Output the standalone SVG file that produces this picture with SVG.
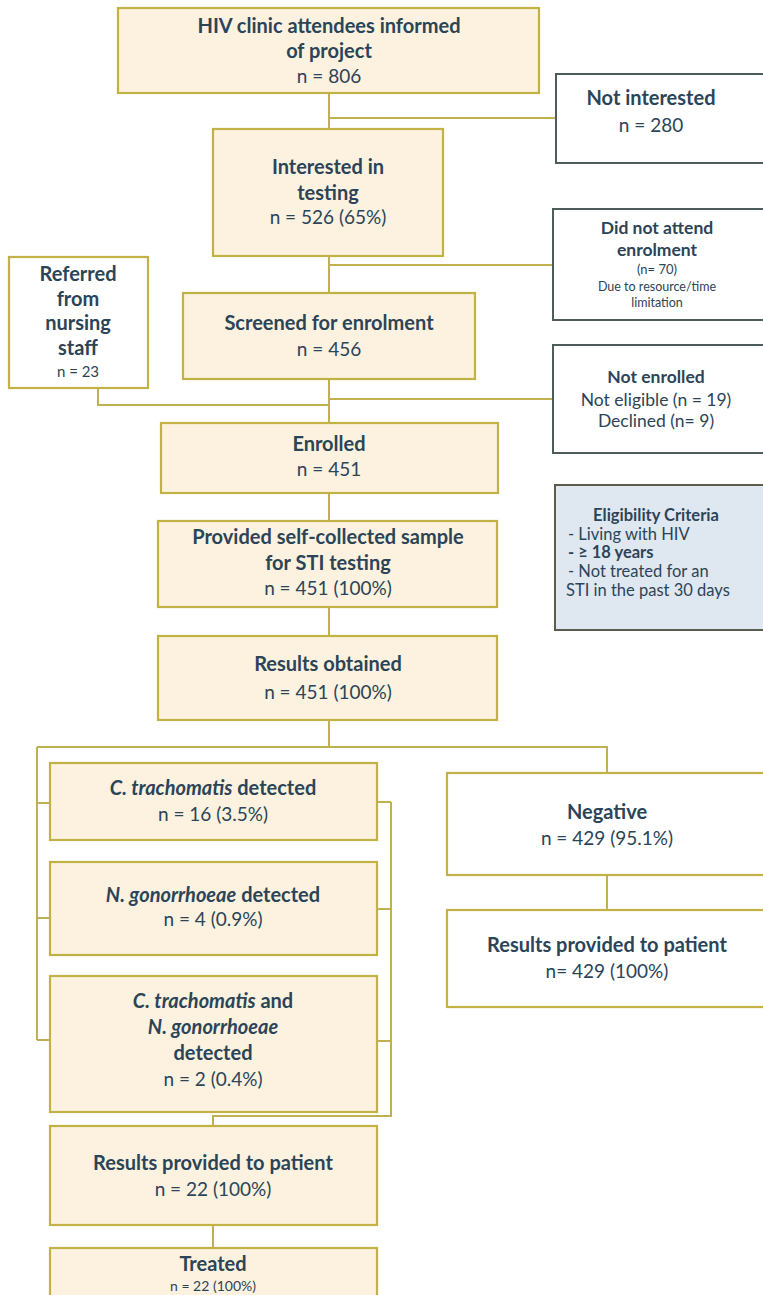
<svg xmlns="http://www.w3.org/2000/svg" width="763" height="1295" viewBox="0 0 763 1295">
<style>
.bx{fill:#fcf2df;stroke:#c2b245;stroke-width:2.2}
.wx{fill:#ffffff;stroke:#c2b245;stroke-width:2.2}
.gx{fill:#ffffff;stroke:#4e5d5c;stroke-width:2}
.ex{fill:#dfe7f1;stroke:#5c5c4c;stroke-width:2}
.ln{fill:none;stroke:#bfb050;stroke-width:2}
text{font-family:Lato,"Open Sans","DejaVu Sans",sans-serif;fill:#2c4457;text-anchor:middle}
.b{font-weight:bold;font-size:20px}
.r{font-size:19px}
.bm{font-weight:bold;font-size:17.5px}
.rm{font-size:17.5px}
.s{font-size:12.5px}
.e{font-size:16.5px}
.i{font-style:italic}
.l{text-anchor:start}
</style>
<rect width="763" height="1295" fill="#ffffff"/>
<g id="connectors">
<path class="ln" d="M329 93V129M329 118H556"/>
<path class="ln" d="M329 256V293M329 265H553"/>
<path class="ln" d="M329 379V423M329 399H553M98 388V405H329"/>
<path class="ln" d="M329 493V521M329 607V636M329 720V747"/>
<path class="ln" d="M37 747H607V773M37 747V1040M37 803H50M37 918H50M37 1040H50"/>
<path class="ln" d="M377 802H391M377 909H391M377 1041H391M391 802V1116H213V1126"/>
<path class="ln" d="M607 875V910M213 1225V1248"/>
</g>
<g id="n1"><rect class="bx" x="118" y="8" width="421" height="85"/>
<text class="b" x="329" y="33">HIV clinic attendees informed</text>
<text class="b" x="329" y="58">of project</text>
<text class="r" x="329" y="83">n = 806</text></g>
<g id="n2"><rect class="gx" x="556" y="74" width="210" height="89"/>
<text class="b" x="651" y="105">Not interested</text>
<text class="r" x="651" y="132">n = 280</text></g>
<g id="n3"><rect class="bx" x="213" y="129" width="230" height="127"/>
<text class="b" x="328" y="174">Interested in</text>
<text class="b" x="328" y="200">testing</text>
<text class="r" x="328" y="224">n = 526 (65%)</text></g>
<g id="n4"><rect class="gx" x="553" y="209" width="213" height="111"/>
<text class="bm" x="657" y="234">Did not attend</text>
<text class="bm" x="657" y="256">enrolment</text>
<text class="s" x="657" y="274" style="font-size:13px">(n= 70)</text>
<text class="s" x="657" y="291">Due to resource/time</text>
<text class="s" x="657" y="307">limitation</text></g>
<g id="n5"><rect class="wx" x="9" y="257" width="139" height="131"/>
<text class="b" x="78" y="281">Referred</text>
<text class="b" x="78" y="306">from</text>
<text class="b" x="78" y="330">nursing</text>
<text class="b" x="78" y="355">staff</text>
<text class="s" x="78" y="377" style="font-size:15px">n = 23</text></g>
<g id="n6"><rect class="bx" x="183" y="293" width="292" height="86"/>
<text class="b" x="329" y="330">Screened for enrolment</text>
<text class="r" x="329" y="356">n = 456</text></g>
<g id="n7"><rect class="gx" x="553" y="345" width="213" height="108"/>
<text class="bm" x="656" y="383">Not enrolled</text>
<text class="rm" x="656" y="406">Not eligible (n = 19)</text>
<text class="rm" x="656" y="427">Declined  (n= 9)</text></g>
<g id="n8"><rect class="bx" x="161" y="423" width="337" height="70"/>
<text class="b" x="329" y="451">Enrolled</text>
<text class="r" x="329" y="476">n = 451</text></g>
<g id="n9"><rect class="ex" x="555" y="485" width="211" height="145"/>
<text class="e" x="656" y="521" style="font-weight:bold">Eligibility Criteria</text>
<text class="e l" x="568" y="540">- Living with HIV</text>
<text class="e l" x="568" y="558" style="font-weight:bold">- ≥ 18 years</text>
<text class="e l" x="568" y="577">- Not treated for an</text>
<text class="e l" x="566" y="596">STI in the past 30 days</text></g>
<g id="n10"><rect class="bx" x="158" y="521" width="339" height="86"/>
<text class="b" x="328" y="544">Provided self-collected sample</text>
<text class="b" x="328" y="570">for STI testing</text>
<text class="r" x="328" y="595">n = 451 (100%)</text></g>
<g id="n11"><rect class="bx" x="158" y="636" width="339" height="84"/>
<text class="b" x="328" y="671">Results obtained</text>
<text class="r" x="328" y="699">n = 451 (100%)</text></g>
<g id="n12"><rect class="bx" x="50" y="763" width="327" height="77"/>
<text class="b" x="213" y="795"><tspan class="i">C. trachomatis</tspan> detected</text>
<text class="r" x="213" y="821">n = 16 (3.5%)</text></g>
<g id="n13"><rect class="bx" x="50" y="862" width="327" height="93"/>
<text class="b" x="213" y="902"><tspan class="i">N. gonorrhoeae</tspan> detected</text>
<text class="r" x="213" y="926">n = 4 (0.9%)</text></g>
<g id="n14"><rect class="bx" x="50" y="976" width="327" height="136"/>
<text class="b" x="213" y="1008"><tspan class="i">C. trachomatis</tspan> and</text>
<text class="b i" x="213" y="1034">N. gonorrhoeae</text>
<text class="b" x="213" y="1060">detected</text>
<text class="r" x="213" y="1086">n = 2 (0.4%)</text></g>
<g id="n15"><rect class="wx" x="447" y="773" width="320" height="102"/>
<text class="b" x="607" y="819">Negative</text>
<text class="r" x="607" y="845">n = 429 (95.1%)</text></g>
<g id="n16"><rect class="wx" x="447" y="910" width="320" height="97"/>
<text class="b" x="607" y="952">Results provided to patient</text>
<text class="r" x="607" y="978">n= 429 (100%)</text></g>
<g id="n17"><rect class="bx" x="50" y="1126" width="327" height="99"/>
<text class="b" x="213" y="1170">Results provided to patient</text>
<text class="r" x="213" y="1196">n = 22 (100%)</text></g>
<g id="n18"><rect class="bx" x="50" y="1248" width="327" height="60"/>
<text class="b" x="213" y="1271">Treated</text>
<text class="s" x="213" y="1291" style="font-size:14px">n = 22 (100%)</text></g>
</svg>
